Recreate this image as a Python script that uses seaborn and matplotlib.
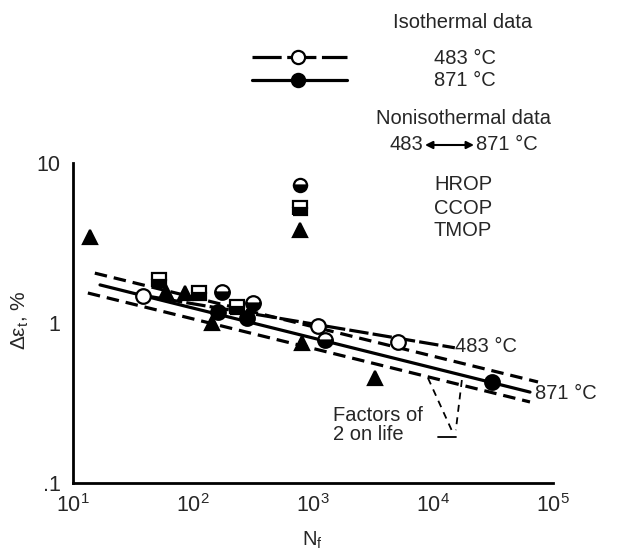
import numpy as np
import matplotlib
matplotlib.use('Agg')
import matplotlib.pyplot as plt
import seaborn as sns
from matplotlib.lines import Line2D
from matplotlib.ticker import LogLocator, FixedLocator, FixedFormatter, NullFormatter

# isothermal data, 483 C (open circles) and 871 C (filled circles)
n_483 = [38.5, 1100, 5100]
e_483 = [1.475, 0.957, 0.76]
n_871 = [162, 282, 30800]
e_871 = [1.17, 1.07, 0.43]

# nonisothermal data
n_hrop = [174, 316, 1260]
e_hrop = [1.56, 1.33, 0.783]
n_ccop = [52, 112, 233]
e_ccop = [1.857, 1.54, 1.26]
n_tmop = [13.9, 60, 86, 144, 805, 3290]
e_tmop = [3.47, 1.56, 1.53, 1.0, 0.753, 0.455]

# fitted life lines (end points)
fit483_n = [36, 15200]
fit483_e = [1.50, 0.70]
fit871_n = [16.8, 64300]
fit871_e = [1.73, 0.37]
band_hi_n = [15.2, 75000]
band_hi_e = [2.05, 0.428]
band_lo_n = [13.3, 64300]
band_lo_e = [1.54, 0.321]

x_ticks = [10, 100, 1000, 10000, 100000]
x_labels = ['$\\mathregular{10^1}$', '$\\mathregular{10^2}$', '$\\mathregular{10^3}$',
            '$\\mathregular{10^4}$', '$\\mathregular{10^5}$']
y_ticks = [0.1, 1, 10]
y_labels = ['.1', '1', '10']

sns.set_style('white')
plt.rcParams['font.family'] = ['Liberation Sans', 'DejaVu Sans']
plt.rcParams['mathtext.fontset'] = 'custom'
plt.rcParams['mathtext.rm'] = 'Liberation Sans'
plt.rcParams['lines.scale_dashes'] = False

W, H = 624, 556
fig = plt.figure(figsize=(W / 100, H / 100), dpi=100)
ax = fig.add_axes([73 / W, 1 - 483 / H, 480 / W, 320 / H])
ax.set_xscale('log')
ax.set_yscale('log')

def fx(px):
    return px / W

def fy(py):
    return 1 - py / H

FS = 14.5
K = 'black'

sns.lineplot(x=band_hi_n, y=band_hi_e, ax=ax, color=K, lw=2.3, linestyle=(0, (9, 5)))
sns.lineplot(x=band_lo_n, y=band_lo_e, ax=ax, color=K, lw=2.3, linestyle=(0, (9, 5)))
sns.lineplot(x=fit871_n, y=fit871_e, ax=ax, color=K, lw=2.3)
sns.lineplot(x=fit483_n, y=fit483_e, ax=ax, color=K, lw=2.3, linestyle=(0, (14, 3)))

ms = 10.5
mew = 1.6
ax.plot(n_483, e_483, 'o', ms=ms, mfc='white', mec=K, mew=mew, clip_on=False)
ax.plot(n_871, e_871, 'o', ms=ms, mfc=K, mec=K, mew=mew, clip_on=False)
ax.plot(n_hrop, e_hrop, 'o', ms=ms, mfc=K, mfcalt='white', fillstyle='bottom',
        mec=K, mew=mew, clip_on=False)
ax.plot(n_ccop, e_ccop, 's', ms=ms, mfc=K, mfcalt='white', fillstyle='bottom',
        mec=K, mew=mew, clip_on=False)
ax.plot(n_tmop, e_tmop, '^', ms=ms, mfc=K, mec=K, mew=mew, clip_on=False)

ax.text(15200, 0.708, '483 °C', fontsize=FS, va='center', ha='left')
ax.text(70800, 0.365, '871 °C', fontsize=FS, va='center', ha='left')
ax.text(1470, 0.232, 'Factors of\n2 on life', fontsize=FS, va='center', ha='left',
        linespacing=1.0)
# leader lines for factor-of-two bands
ax.plot([9080, 14300], [0.453, 0.214], color=K, lw=1.3, linestyle=(0, (5, 4)))
ax.plot([17400, 15500], [0.44, 0.214], color=K, lw=1.3, linestyle=(0, (5, 4)))
ax.plot([11000, 15500], [0.194, 0.194], color=K, lw=1.3)

ax.set_xlim(10, 100000)
ax.set_ylim(0.1, 10)

sns.despine(ax=ax)
for s in ['left', 'bottom']:
    ax.spines[s].set_linewidth(2)
    ax.spines[s].set_color(K)

ax.xaxis.set_major_locator(FixedLocator(x_ticks))
ax.xaxis.set_major_formatter(FixedFormatter(x_labels))
ax.yaxis.set_major_locator(FixedLocator(y_ticks))
ax.yaxis.set_major_formatter(FixedFormatter(y_labels))
ax.xaxis.set_minor_locator(LogLocator(subs=np.arange(2, 10)))
ax.yaxis.set_minor_locator(LogLocator(subs=np.arange(2, 10)))
ax.xaxis.set_minor_formatter(NullFormatter())
ax.yaxis.set_minor_formatter(NullFormatter())
ax.tick_params(which='both', direction='in', color=K, width=1.8, labelsize=FS + 1)
ax.tick_params(axis='x', which='major', length=16, pad=8)
ax.tick_params(axis='x', which='minor', length=10)
ax.tick_params(axis='y', which='major', length=16, pad=9)
ax.tick_params(axis='y', which='minor', length=13)

fig.text(fx(20), fy(320), 'Δε$_\\mathregular{t}$, %', rotation=90, fontsize=FS + 0.5,
         ha='center', va='center')
fig.text(fx(312), fy(540), 'N$_\\mathregular{f}$', fontsize=FS, ha='center', va='center')

# legend block
fig.text(fx(463), fy(22), 'Isothermal data', fontsize=FS, ha='center', va='center')
fig.add_artist(Line2D([fx(252), fx(347)], [fy(57), fy(57)], color=K, lw=2.3,
                      linestyle=(0, (21, 4))))
fig.add_artist(Line2D([fx(298)], [fy(57)], marker='o', ms=9.5, mfc='white', mec=K, mew=mew))
fig.add_artist(Line2D([fx(252), fx(347)], [fy(80), fy(80)], color=K, lw=2.3))
fig.add_artist(Line2D([fx(298)], [fy(80)], marker='o', ms=9.5, mfc=K, mec=K, mew=mew))
fig.text(fx(465), fy(58), '483 °C', fontsize=FS, ha='center', va='center')
fig.text(fx(465), fy(81), '871 °C', fontsize=FS, ha='center', va='center')

fig.text(fx(463), fy(118), 'Nonisothermal data', fontsize=FS, ha='center', va='center')
fig.text(fx(423), fy(145), '483', fontsize=FS, ha='right', va='center')
fig.text(fx(476), fy(145), '871 °C', fontsize=FS, ha='left', va='center')
ax.annotate('', xy=(fx(474), fy(145)), xytext=(fx(425), fy(145)),
            xycoords='figure fraction', textcoords='figure fraction',
            arrowprops=dict(arrowstyle='<|-|>', color=K, lw=1.5,
                            mutation_scale=11, shrinkA=0, shrinkB=0))

leg_y = [185, 208, 230]
fig.add_artist(Line2D([fx(300)], [fy(leg_y[0])], marker='o', ms=9.5, mfc=K,
                      mfcalt='white', fillstyle='bottom', mec=K, mew=mew))
fig.add_artist(Line2D([fx(300)], [fy(leg_y[1])], marker='s', ms=9.5, mfc=K,
                      mfcalt='white', fillstyle='bottom', mec=K, mew=mew))
fig.add_artist(Line2D([fx(300)], [fy(leg_y[2])], marker='^', ms=9.5, mfc=K, mec=K, mew=mew))
for yy, lab in zip(leg_y, ['HROP', 'CCOP', 'TMOP']):
    fig.text(fx(463), fy(yy), lab, fontsize=FS, ha='center', va='center')

fig.savefig('out.png', dpi=100)
